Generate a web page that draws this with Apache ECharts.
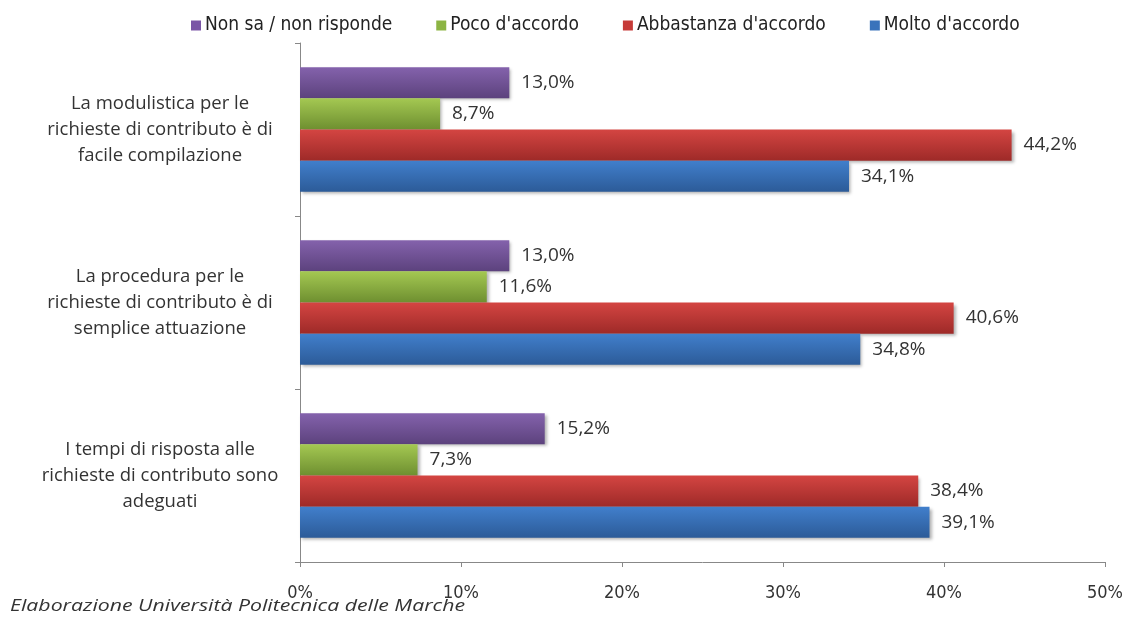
<!DOCTYPE html>
<html>
<head>
<meta charset="utf-8">
<script src="https://cdn.jsdelivr.net/npm/echarts@6/dist/echarts.min.js"></script>
<style>
  html, body { margin: 0; padding: 0; background: #fff; }
  #chart { width: 1127px; height: 617px; }
</style>
</head>
<body>
<div id="chart"></div>
<script>
// categorie dal basso verso l'alto (asse y)
const categorie = [
    'I tempi di risposta alle\nrichieste di contributo sono\nadeguati',
    'La procedura per le\nrichieste di contributo è di\nsemplice attuazione',
    'La modulistica per le\nrichieste di contributo è di\nfacile compilazione'
];
const molto = [39.1, 34.8, 34.1];
const abbastanza = [38.4, 40.6, 44.2];
const poco = [7.3, 11.6, 8.7];
const nonSa = [15.2, 13.0, 13.0];
const ticks = [0, 10, 20, 30, 40, 50];

const chart = echarts.init(document.getElementById('chart'));
const narrow = '"DejaVu Sans Condensed", "DejaVu Sans", sans-serif';

function grad(top, bottom) {
    return new echarts.graphic.LinearGradient(0, 0, 0, 1, [
        { offset: 0, color: top },
        { offset: 1, color: bottom }
    ]);
}

function serie(name, values, top, bottom) {
    return {
        name: name,
        type: 'bar',
        data: values,
        barGap: '0%',
        barCategoryGap: '28%',
        itemStyle: {
            color: grad(top, bottom),
            shadowBlur: 3,
            shadowOffsetX: 2,
            shadowOffsetY: 2,
            shadowColor: 'rgba(0,0,0,0.3)'
        },
        label: {
            show: true,
            position: 'right',
            distance: 12,
            color: '#333',
            fontFamily: 'Open Sans',
            fontSize: 19,
            formatter: p => p.value.toFixed(1).replace('.', ',') + '%'
        }
    };
}

const option = {
    animation: false,
    backgroundColor: '#fff',
    legend: {
        top: 11,
        left: 186,
        itemWidth: 10,
        itemHeight: 10,
        itemGap: 44,
        icon: 'rect',
        data: [
            { name: 'Non sa / non risponde', itemStyle: { color: '#7a55a6' } },
            { name: "Poco d'accordo", itemStyle: { color: '#8cb443' } },
            { name: "Abbastanza d'accordo", itemStyle: { color: '#c63b38' } },
            { name: "Molto d'accordo", itemStyle: { color: '#3a73bb' } }
        ],
        textStyle: {
            fontFamily: narrow,
            fontSize: 19,
            color: '#222',
            padding: [0, 0, 0, -1]
        }
    },
    grid: {
        left: 300,
        right: 22,
        top: 43,
        bottom: 55
    },
    xAxis: {
        type: 'value',
        min: 0,
        max: 50,
        interval: 10,
        axisLine: { show: true, lineStyle: { color: '#888' } },
        axisTick: { show: true, length: 5, lineStyle: { color: '#888' } },
        splitLine: { show: false },
        axisLabel: {
            margin: 22,
            color: '#333',
            fontFamily: narrow,
            fontSize: 18,
            formatter: v => ticks.includes(v) ? v + '%' : ''
        }
    },
    yAxis: {
        type: 'category',
        data: categorie,
        axisLine: { show: true, lineStyle: { color: '#888' } },
        axisTick: { show: true, length: 5, lineStyle: { color: '#888' } },
        axisLabel: {
            align: 'center',
            margin: 140,
            lineHeight: 26,
            color: '#333',
            fontFamily: 'Open Sans',
            fontSize: 18.5
        }
    },
    series: [
        serie('Non sa / non risponde', nonSa, '#8462ac', '#5c427d'),
        serie("Poco d'accordo", poco, '#a4c852', '#6e8f30'),
        serie("Abbastanza d'accordo", abbastanza, '#d44542', '#9e2a28'),
        serie("Molto d'accordo", molto, '#417fcc', '#2c5b98')
    ],
    graphic: [{
        type: 'text',
        x: 10,
        y: 598,
        scaleX: 1.25,
        style: {
            text: 'Elaborazione Università Politecnica delle Marche',
            fontFamily: 'Open Sans',
            fontStyle: 'italic',
            fontSize: 17,
            fill: '#333'
        }
    }]
};

chart.setOption(option);
</script>
</body>
</html>
